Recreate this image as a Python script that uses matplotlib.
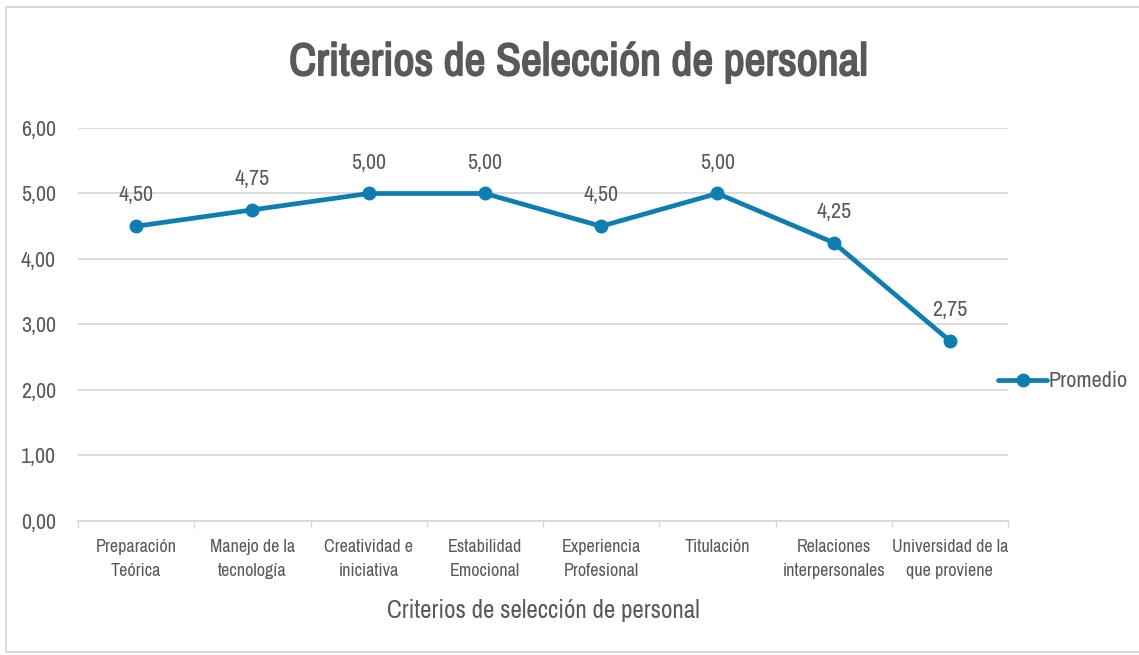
import matplotlib
matplotlib.use("Agg")
import matplotlib.pyplot as plt
import matplotlib.patheffects as pe
from matplotlib.patches import Rectangle
from matplotlib import font_manager

# data
criterios = ["Preparación\nTeórica", "Manejo de la\ntecnología", "Creatividad e\niniciativa",
             "Estabilidad\nEmocional", "Experiencia\nProfesional", "Titulación",
             "Relaciones\ninterpersonales", "Universidad de la\nque proviene"]
promedio = [4.50, 4.75, 5.00, 5.00, 4.50, 5.00, 4.25, 2.75]
y_ticks = [0, 1, 2, 3, 4, 5, 6]

# narrow face if there is one (the original is Calibri)
names = sorted({f.name for f in font_manager.fontManager.ttflist})
narrow = [n for n in names if "Narrow" in n or "Condensed" in n]
fam = narrow[0] if narrow else "Open Sans"
plt.rcParams["font.family"] = [fam, "DejaVu Sans"]
k = 1.13 if narrow else 0.88

gris = "#595959"
azul = "#0E7DAF"

fig = plt.figure(figsize=(11.39, 6.55), dpi=100)
ax = fig.add_axes([0.0685, 0.2046, 0.8165, 0.6])

x = list(range(len(criterios)))
ax.plot(x, promedio, color=azul, lw=3.4, marker="o", ms=9, label="Promedio",
        solid_capstyle="round", zorder=3)
for xi, v in zip(x, promedio):
    ax.annotate(f"{v:.2f}".replace(".", ","), (xi, v), xytext=(0, 15),
                textcoords="offset points", ha="center", va="bottom",
                fontsize=14 * k, color=gris)

ax.set_xlim(-0.5, len(criterios) - 0.5)
ax.set_ylim(0, 6)
ax.set_yticks(y_ticks)
ax.set_yticklabels([f"{t:.2f}".replace(".", ",") for t in y_ticks], fontsize=14 * k, color=gris)
ax.set_xticks(x)
ax.set_xticklabels(criterios, fontsize=11.5 * k, color=gris, linespacing=1.65)
ax.set_xticks([i - 0.5 for i in range(len(criterios) + 1)], minor=True)
ax.tick_params(axis="x", which="major", length=0, pad=13)
ax.tick_params(axis="x", which="minor", length=5, color="#D9D9D9", width=1)
ax.tick_params(axis="y", length=0, pad=16)
ax.grid(axis="y", color="#D9D9D9", lw=1.3)
ax.set_axisbelow(True)
for s in ["top", "right", "left"]:
    ax.spines[s].set_visible(False)
ax.spines["bottom"].set_color("#D9D9D9")
ax.spines["bottom"].set_linewidth(1.3)

ax.set_xlabel("Criterios de selección de personal", fontsize=16 * k, color=gris, labelpad=14)
t = fig.text(0.508, 0.905, "Criterios de Selección de personal", ha="center", va="center",
             fontsize=33 if narrow else 26, fontweight="bold", color=gris)
if narrow:
    # the narrow face has no bold, thicken it
    t.set_path_effects([pe.withStroke(linewidth=1.3, foreground=gris)])

ax.legend(loc="center left", bbox_to_anchor=(0.98, 0.355), frameon=False,
          fontsize=16 if narrow else 12.5, labelcolor=gris, handlelength=2.2,
          handletextpad=0.05, borderaxespad=0)

fig.patches.append(Rectangle((6 / 1139, 0.005), 1.2, 0.985, transform=fig.transFigure,
                             fill=False, ec="#D9D9D9", lw=1.5))

fig.savefig("out.png", dpi=100)
